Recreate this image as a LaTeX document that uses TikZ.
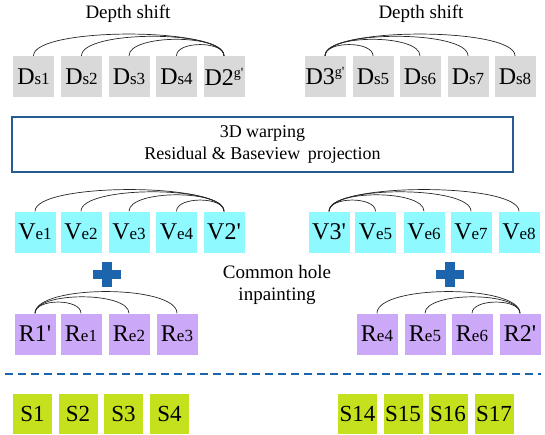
\documentclass[tikz,border=0pt]{standalone}
\usepackage{fontspec}
\setmainfont{Liberation Serif}[Ligatures=TeXOff]
\usepackage{tikz}
\usetikzlibrary{positioning,calc}
\definecolor{dsgray}{RGB}{217,217,217}
\definecolor{vecyan}{RGB}{142,249,255}
\definecolor{repurple}{RGB}{204,168,249}
\definecolor{slime}{RGB}{197,224,28}
\definecolor{markblue}{RGB}{28,100,172}
\definecolor{frameblue}{RGB}{38,90,145}
% big letter + small index
\newcommand{\bigsmall}[2]{{\fontsize{24}{24}\selectfont #1}{\fontsize{17}{17}\selectfont #2}}
\newcommand{\bigonly}[1]{{\fontsize{24}{24}\selectfont #1}}
\newcommand{\gsup}{\raisebox{8pt}{\fontsize{14}{14}\selectfont g'}}

\begin{document}
\begin{tikzpicture}[x=1pt,y=-1pt,
      box/.style={inner sep=0pt,minimum width=41pt,minimum height=41pt,align=center},
      sbox/.style={fill=slime,inner sep=0pt,minimum width=39pt,minimum height=40pt,font=\fontsize{23}{23}\selectfont},
      link/.style={draw=black!85,line width=0.7pt},
      lbltext/.style={font=\fontsize{19}{22}\selectfont,align=center}]
    \useasboundingbox (0,0) rectangle (545,434);
    % Depth shift
    \node[lbltext] (dsl) at (128,14) {Depth shift};
    \node[lbltext] (dsr) at (421,14) {Depth shift};
    \node[box,fill=dsgray] (ds1) at (33.5,76.5) {\bigsmall{D}{s1}};
    \node[box,fill=dsgray] (ds2) at (81.5,76.5) {\bigsmall{D}{s2}};
    \node[box,fill=dsgray] (ds3) at (129,76.5)  {\bigsmall{D}{s3}};
    \node[box,fill=dsgray] (ds4) at (176.5,76.5){\bigsmall{D}{s4}};
    \node[box,fill=dsgray] (d2)  at (224,76.5)  {\bigonly{D2}\gsup};
    \node[box,fill=dsgray] (d3)  at (325,76.5)  {\bigonly{D3}\gsup};
    \node[box,fill=dsgray] (ds5) at (373,76.5)  {\bigsmall{D}{s5}};
    \node[box,fill=dsgray] (ds6) at (420,76.5)  {\bigsmall{D}{s6}};
    \node[box,fill=dsgray] (ds7) at (468,76.5)  {\bigsmall{D}{s7}};
    \node[box,fill=dsgray] (ds8) at (515,76.5)  {\bigsmall{D}{s8}};
    % Warping box
    \node[draw=frameblue,line width=1.5pt,minimum width=501pt,minimum height=55pt,
          font=\fontsize{18}{22}\selectfont,align=center] (warp) at (262.5,144.5)
          {3D warping\\Residual \& Baseview\, projection};
    % Virtual views
    \node[box,fill=vecyan] (ve1) at (35,232)    {\bigsmall{V}{e1}};
    \node[box,fill=vecyan] (ve2) at (81,232)    {\bigsmall{V}{e2}};
    \node[box,fill=vecyan] (ve3) at (129,232)   {\bigsmall{V}{e3}};
    \node[box,fill=vecyan] (ve4) at (176.5,232) {\bigsmall{V}{e4}};
    \node[box,fill=vecyan] (v2)  at (224,232)   {\bigonly{V2'}};
    \node[box,fill=vecyan] (v3)  at (329,232)   {\bigonly{V3'}};
    \node[box,fill=vecyan] (ve5) at (375.5,232) {\bigsmall{V}{e5}};
    \node[box,fill=vecyan] (ve6) at (424,232)   {\bigsmall{V}{e6}};
    \node[box,fill=vecyan] (ve7) at (471,232)   {\bigsmall{V}{e7}};
    \node[box,fill=vecyan] (ve8) at (519,232)   {\bigsmall{V}{e8}};
    % Residuals
    \node[box,fill=repurple] (r1)  at (35,334)  {\bigonly{R1'}};
    \node[box,fill=repurple] (re1) at (81,334)  {\bigsmall{R}{e1}};
    \node[box,fill=repurple] (re2) at (129,334) {\bigsmall{R}{e2}};
    \node[box,fill=repurple] (re3) at (177,334) {\bigsmall{R}{e3}};
    \node[box,fill=repurple] (re4) at (377,334) {\bigsmall{R}{e4}};
    \node[box,fill=repurple] (re5) at (425,334) {\bigsmall{R}{e5}};
    \node[box,fill=repurple] (re6) at (472,334) {\bigsmall{R}{e6}};
    \node[box,fill=repurple] (r2)  at (520,334) {\bigonly{R2'}};
    \node[lbltext] (hole) at (277,285) {Common hole\\inpainting};
    % Plus signs
    \foreach \cx in {107,450}{
      \fill[markblue] (\cx-14,269.75) rectangle (\cx+14,279.25);
      \fill[markblue] (\cx-5,262) rectangle (\cx+5,287);}
    % Separator
    \coordinate (sepl) at (5,374);
    \coordinate (sepr) at (541,374);
    \draw[markblue,line width=1.8pt,dash pattern=on 8pt off 5pt] (sepl) -- (sepr);
    % Synthesized views
    \node[sbox] (s1)  at (32.5,414)  {S1};
    \node[sbox] (s2)  at (78,414)    {S2};
    \node[sbox] (s3)  at (123.5,414) {S3};
    \node[sbox] (s4)  at (169.5,414) {S4};
    \node[sbox] (s14) at (357.5,414) {S14};
    \node[sbox] (s15) at (403,414)   {S15};
    \node[sbox] (s16) at (448,414)   {S16};
    \node[sbox] (s17) at (494,414)   {S17};
    % Arcs
    \foreach \a/\h in {ds1/29,ds2/26,ds3/22,ds4/15}{\draw[link] (\a.north) .. controls +(0,-\h) and +(0,-\h) .. (d2.north);}
    \foreach \b/\h in {ds5/15,ds6/22,ds7/26,ds8/29}{\draw[link] (d3.north) .. controls +(0,-\h) and +(0,-\h) .. (\b.north);}
    \foreach \a/\h in {ve1/29,ve2/26,ve3/22,ve4/15}{\draw[link] (\a.north) .. controls +(0,-\h) and +(0,-\h) .. (v2.north);}
    \foreach \b/\h in {ve5/15,ve6/22,ve7/26,ve8/29}{\draw[link] (v3.north) .. controls +(0,-\h) and +(0,-\h) .. (\b.north);}
    \foreach \b/\h in {re1/15,re2/22,re3/29}{\draw[link] (r1.north) .. controls +(0,-\h) and +(0,-\h) .. (\b.north);}
    \foreach \a/\h in {re4/29,re5/22,re6/15}{\draw[link] (\a.north) .. controls +(0,-\h) and +(0,-\h) .. (r2.north);}
  \end{tikzpicture}
\end{document}
